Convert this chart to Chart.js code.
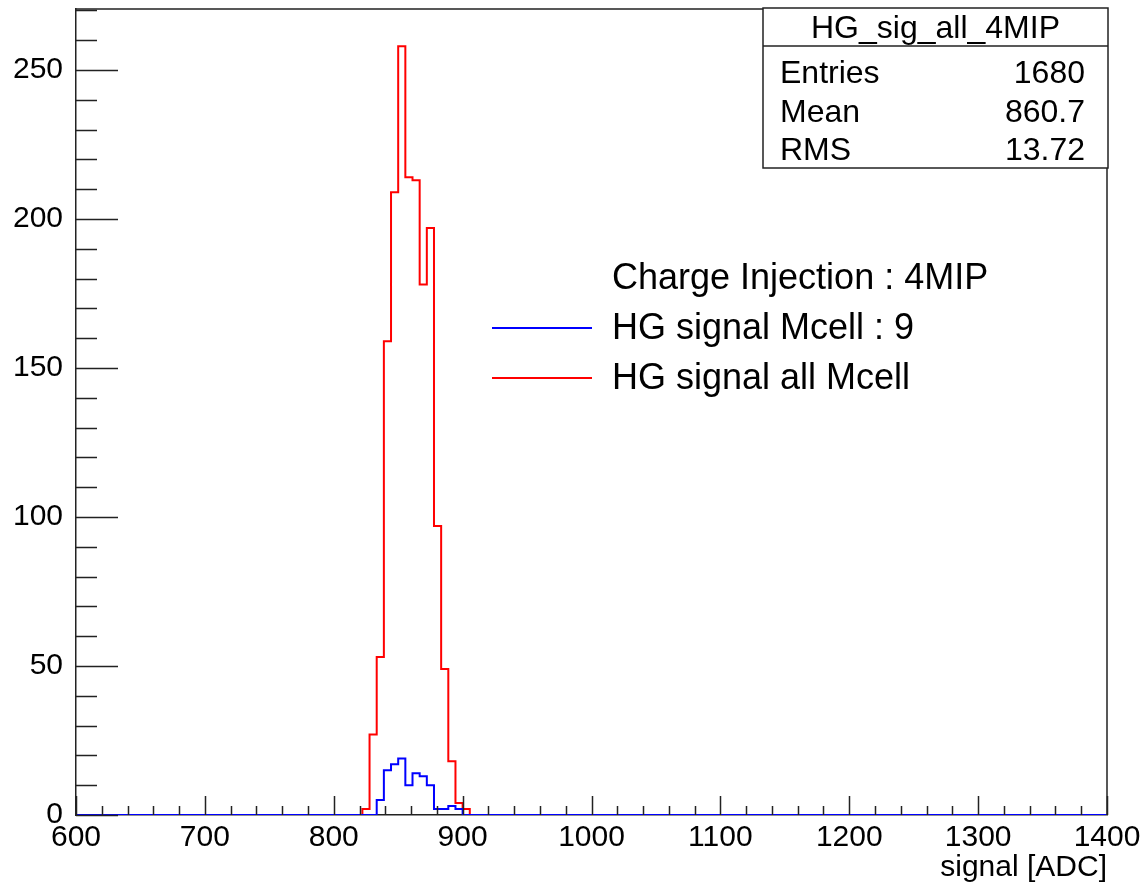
<!DOCTYPE html>
<html>
<head>
<meta charset="utf-8">
<script src="https://cdn.jsdelivr.net/npm/chart.js@4/dist/chart.umd.min.js"></script>
<style>
  html, body { margin: 0; padding: 0; background: #fff; }
  #wrap { width: 1142px; height: 888px; }
</style>
</head>
<body>
<div id="wrap"><canvas id="histChart" width="1142" height="888"></canvas></div>
<script>
// histogram binning: 144 bins from 600 to 1400 ADC
const xMin = 600;
const xMax = 1400;
const nBins = 144;

// counts per bin, starting at the given bin index
const allMcellFirstBin = 40;
const allMcellCounts = [2, 27, 53, 159, 209, 258, 214, 213, 178, 197, 97, 49, 18, 4, 2];
const mcell9FirstBin = 42;
const mcell9Counts = [5, 15, 17, 19, 10, 14, 13, 10, 2, 2, 3, 2];

const seriesLabels = ['HG signal Mcell : 9', 'HG signal all Mcell'];
const legendHeader = 'Charge Injection : 4MIP';

const xTicks = [600, 700, 800, 900, 1000, 1100, 1200, 1300, 1400];
const yTicks = [0, 50, 100, 150, 200, 250];
const yMax = 270.5;

const statsTitle = 'HG_sig_all_4MIP';
const statsNames = ['Entries', 'Mean', 'RMS'];
const statsValues = ['1680', '860.7', '13.72'];

const FONT = '"Liberation Sans", Arial, Helvetica, sans-serif';
const binWidth = (xMax - xMin) / nBins;

// step outline like ROOT's HIST draw option
function histPoints(counts, firstBin) {
    const pts = [{ x: xMin, y: 0 }];
    counts.forEach(function(c, i) {
        pts.push({ x: xMin + (firstBin + i) * binWidth, y: c });
    });
    pts.push({ x: xMin + (firstBin + counts.length) * binWidth, y: 0 });
    pts.push({ x: xMax, y: 0 });
    return pts;
}

// ticks inside the frame, frame box, legend and stats box
const rootDecor = {
    id: 'rootDecor',
    afterDatasetsDraw(chart) {
        const ctx = chart.ctx;
        const a = chart.chartArea;
        const xs = chart.scales.x;
        const ys = chart.scales.y;
        ctx.save();
        ctx.strokeStyle = '#222';
        ctx.lineWidth = 1.5;

        // frame top + right
        ctx.beginPath();
        ctx.moveTo(a.left, a.top);
        ctx.lineTo(a.right, a.top);
        ctx.lineTo(a.right, a.bottom);
        ctx.stroke();

        // y ticks (major 50, minor 10)
        ctx.beginPath();
        for (let v = 0; v <= yMax; v += 10) {
            const py = Math.round(ys.getPixelForValue(v)) + 0.5;
            const len = v % 50 === 0 ? 42 : 21;
            ctx.moveTo(a.left, py);
            ctx.lineTo(a.left + len, py);
        }
        // x ticks (major 100, minor 20)
        for (let v = xMin; v <= xMax; v += 20) {
            const px = Math.round(xs.getPixelForValue(v)) + 0.5;
            const len = (v - xMin) % 100 === 0 ? 19 : 9;
            ctx.moveTo(px, a.bottom);
            ctx.lineTo(px, a.bottom - len);
        }
        ctx.stroke();

        // legend
        ctx.fillStyle = '#000';
        ctx.font = '36px ' + FONT;
        ctx.textAlign = 'left';
        ctx.textBaseline = 'alphabetic';
        ctx.fillText(legendHeader, 612, 289);
        chart.data.datasets.forEach(function(ds, i) {
            const yb = 339 + i * 50;
            ctx.strokeStyle = ds.borderColor;
            ctx.lineWidth = 2;
            ctx.beginPath();
            ctx.moveTo(492, yb - 11);
            ctx.lineTo(592, yb - 11);
            ctx.stroke();
            ctx.fillText(ds.label, 612, yb);
        });

        // stats box
        const bx = 763, by = 8, bw = 345, bh = 160;
        ctx.fillStyle = '#fff';
        ctx.fillRect(bx, by, bw, bh);
        ctx.strokeStyle = '#222';
        ctx.lineWidth = 1.5;
        ctx.strokeRect(bx, by, bw, bh);
        ctx.beginPath();
        ctx.moveTo(bx, 46);
        ctx.lineTo(bx + bw, 46);
        ctx.stroke();
        ctx.fillStyle = '#000';
        ctx.font = '32px ' + FONT;
        ctx.textAlign = 'center';
        ctx.fillText(statsTitle, bx + bw / 2, 38);
        statsNames.forEach(function(name, i) {
            const yb = 83 + i * 38.5;
            ctx.textAlign = 'left';
            ctx.fillText(name, 780, yb);
            ctx.textAlign = 'right';
            ctx.fillText(statsValues[i], 1085, yb);
        });
        ctx.restore();
    }
};

new Chart(document.getElementById('histChart'), {
    type: 'line',
    data: {
        datasets: [{
            label: seriesLabels[0],
            data: histPoints(mcell9Counts, mcell9FirstBin),
            borderColor: '#0000ff',
            borderWidth: 2,
            pointRadius: 0,
            stepped: true,
            fill: false
        }, {
            label: seriesLabels[1],
            data: histPoints(allMcellCounts, allMcellFirstBin),
            borderColor: '#ff0000',
            borderWidth: 2,
            pointRadius: 0,
            stepped: true,
            fill: false
        }]
    },
    options: {
        responsive: false,
        animation: false,
        layout: { padding: { top: 9, right: 35, left: 0, bottom: 0 } },
        plugins: { legend: { display: false }, tooltip: { enabled: false } },
        scales: {
            x: {
                type: 'linear',
                min: xMin,
                max: xMax,
                afterBuildTicks: function(scale) {
                    scale.ticks = xTicks.map(function(v) { return { value: v }; });
                },
                afterFit: function(scale) {
                    scale.height = 73;
                    scale.paddingLeft = 0;
                    scale.paddingRight = 0;
                },
                grid: { display: false, drawTicks: false },
                border: { display: true, color: '#222', width: 1.5 },
                ticks: {
                    color: '#000',
                    padding: 5,
                    maxRotation: 0,
                    autoSkip: false,
                    font: { family: FONT, size: 30 },
                    callback: function(v) { return String(v); }
                },
                title: {
                    display: true,
                    text: 'signal [ADC]',
                    align: 'end',
                    color: '#000',
                    padding: { top: 0, bottom: 2 },
                    font: { family: FONT, size: 30 }
                }
            },
            y: {
                min: 0,
                max: yMax,
                afterBuildTicks: function(scale) {
                    scale.ticks = yTicks.map(function(v) { return { value: v }; });
                },
                afterFit: function(scale) {
                    scale.width = 76;
                    scale.paddingTop = 0;
                    scale.paddingBottom = 0;
                },
                grid: { display: false, drawTicks: false },
                border: { display: true, color: '#222', width: 1.5 },
                ticks: {
                    color: '#000',
                    padding: 13,
                    autoSkip: false,
                    font: { family: FONT, size: 30 },
                    callback: function(v) { return String(v); }
                }
            }
        }
    },
    plugins: [rootDecor]
});
</script>
</body>
</html>
